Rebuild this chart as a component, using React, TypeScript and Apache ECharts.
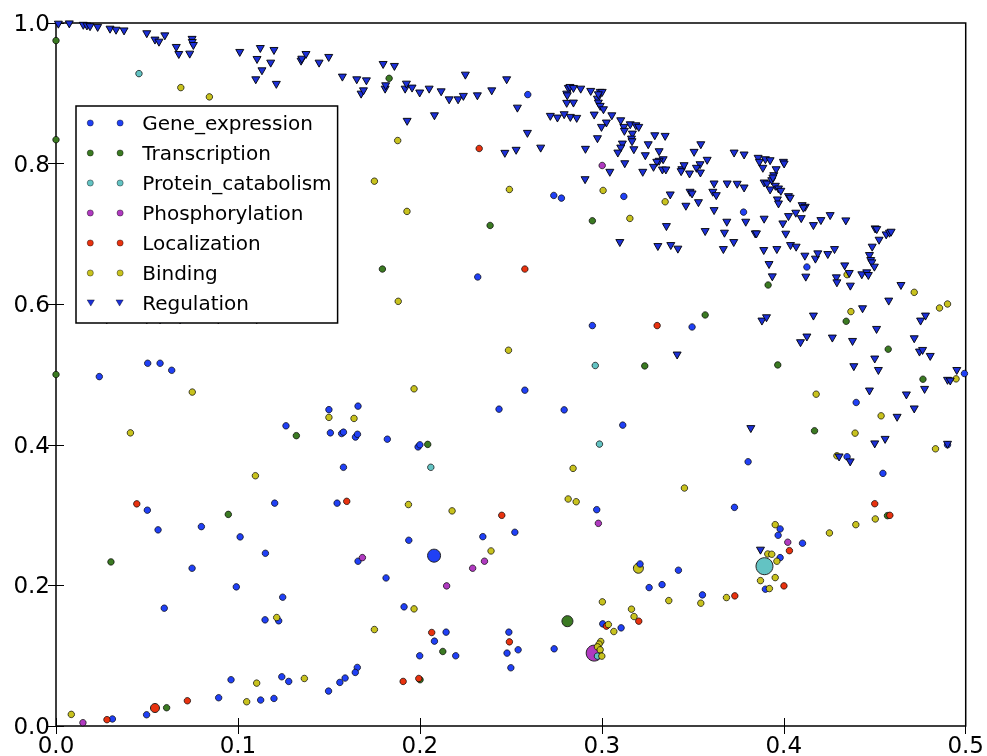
import React, { useEffect, useRef } from "react";
import * as echarts from "echarts";

const categories = ["Gene_expression", "Transcription", "Protein_catabolism", "Phosphorylation", "Localization", "Binding", "Regulation"];

const xTicks = ["0.0", "0.1", "0.2", "0.3", "0.4", "0.5"];
const yTicks = ["0.0", "0.2", "0.4", "0.6", "0.8", "1.0"];

// mean point of each category (drawn large)
const centroids: Record<string, number[]> = {
  Gene_expression: [0.2078, 0.2423],
  Transcription: [0.2811, 0.1491],
  Protein_catabolism: [0.3894, 0.2273],
  Phosphorylation: [0.2958, 0.1037],
  Localization: [0.0544, 0.0256],
  Binding: [0.3201, 0.2244],
};

const geneExpression = [
  [0.0238, 0.497], [0.0504, 0.516], [0.0572, 0.516], [0.0636, 0.506],
  [0.150, 0.450], [0.166, 0.455], [0.1264, 0.427], [0.1508, 0.417], [0.157, 0.416], [0.158, 0.418], [0.1646, 0.411], [0.1657, 0.415], [0.1821, 0.408], [0.199, 0.397], [0.200, 0.400], [0.2435, 0.4507], [0.158, 0.368],
  [0.0502, 0.307], [0.0561, 0.279], [0.0799, 0.2836], [0.1012, 0.269], [0.1202, 0.317], [0.1545, 0.317],
  [0.0748, 0.2244], [0.1151, 0.2457], [0.1939, 0.2642], [0.166, 0.2344], [0.2346, 0.2693], [0.1814, 0.2106], [0.0991, 0.1979], [0.0595, 0.1676], [0.1246, 0.1832], [0.1149, 0.151], [0.1224, 0.1496], [0.1913, 0.1695], [0.2144, 0.1335], [0.208, 0.1207], [0.2197, 0.0999], [0.1999, 0.0999],
  [0.1656, 0.0833], [0.1645, 0.0762], [0.1589, 0.0682], [0.156, 0.062], [0.1498, 0.0497], [0.1279, 0.0634], [0.1241, 0.07], [0.0962, 0.0658], [0.1198, 0.0392], [0.1125, 0.0369], [0.0894, 0.0402], [0.0498, 0.016], [0.031, 0.01],
  [0.2577, 0.4777], [0.2793, 0.4497], [0.3115, 0.428], [0.2972, 0.3077], [0.2522, 0.2756], [0.3729, 0.311], [0.3804, 0.3759], [0.4398, 0.4602], [0.4348, 0.383], [0.4545, 0.3594], [0.49, 0.4], [0.4103, 0.26], [0.398, 0.2803], [0.3969, 0.2713], [0.398, 0.2395], [0.3899, 0.1946], [0.3553, 0.1865], [0.3421, 0.2216], [0.3331, 0.2011], [0.326, 0.1969], [0.321, 0.2305], [0.3106, 0.1396], [0.3005, 0.1453], [0.2489, 0.1335], [0.2479, 0.1037], [0.254, 0.1084], [0.25, 0.0828], [0.2738, 0.1098],
  [0.2593, 0.8982], [0.2736, 0.7547], [0.2778, 0.7509], [0.3121, 0.7533], [0.3779, 0.731], [0.2948, 0.5696], [0.3496, 0.5676], [0.4127, 0.6529],
  [0.2318, 0.6387], [0.4993, 0.5014],
];

const transcription = [
  [0.1321, 0.413], [0.2043, 0.4006], [0.0947, 0.301], [0.0302, 0.2334], [0.2126, 0.106], [0.2001, 0.0658], [0.0608, 0.026],
  [0.4169, 0.42], [0.4765, 0.4933], [0.457, 0.2992],
  [0.2386, 0.712], [0.2948, 0.7187], [0.3914, 0.6273], [0.3568, 0.5847], [0.3236, 0.5122], [0.3967, 0.5136], [0.4343, 0.5757], [0.4574, 0.536],
  [0.1831, 0.9213], [0.1794, 0.65],
  [0, 0.975], [0, 0.834], [0, 0.5],
];

const proteinCatabolism = [
  [0.206, 0.368], [0.2987, 0.401], [0.2976, 0.0994], [0.0456, 0.928], [0.2964, 0.5128],
];

const phosphorylation = [
  [0.1684, 0.2395], [0.2355, 0.2344], [0.229, 0.2244], [0.2147, 0.1993], [0.0148, 0.0047], [0.2981, 0.2883], [0.4022, 0.2614], [0.3002, 0.7973],
];

const localization = [
  [0.0444, 0.316], [0.1598, 0.3196], [0.245, 0.2997], [0.2065, 0.133], [0.1908, 0.0634], [0.1994, 0.0676], [0.0722, 0.0359], [0.028, 0.009],
  [0.45, 0.3162], [0.4583, 0.2997], [0.4031, 0.2494], [0.4001, 0.1993], [0.3731, 0.1851], [0.3203, 0.1491], [0.3025, 0.142], [0.2492, 0.1197],
  [0.2577, 0.65], [0.3304, 0.5696], [0.2326, 0.8215],
];

const binding = [
  [0.0749, 0.475], [0.0409, 0.417], [0.150, 0.439], [0.1638, 0.4375], [0.1968, 0.4796], [0.1096, 0.356], [0.1937, 0.315], [0.2177, 0.306], [0.2391, 0.249], [0.1213, 0.1543], [0.1968, 0.1666], [0.175, 0.1372], [0.1365, 0.0676], [0.1103, 0.061], [0.1048, 0.0345], [0.0084, 0.0165],
  [0.2842, 0.3665], [0.3454, 0.3385], [0.2815, 0.3229], [0.2859, 0.319], [0.4178, 0.472], [0.4392, 0.4166], [0.4535, 0.4412], [0.4947, 0.4938], [0.4292, 0.3844], [0.4834, 0.3943], [0.4503, 0.2945], [0.4396, 0.2864], [0.4251, 0.2746], [0.3953, 0.2864], [0.3912, 0.2447], [0.3934, 0.2443], [0.3962, 0.2344], [0.3872, 0.2068], [0.3953, 0.2111], [0.3921, 0.1955], [0.3685, 0.1827], [0.3544, 0.1747], [0.3368, 0.1784], [0.3003, 0.1766], [0.3163, 0.1662], [0.3177, 0.1557], [0.3066, 0.1344], [0.3036, 0.1443],
  [0.2994, 0.1202], [0.2985, 0.1165], [0.2976, 0.1126], [0.2991, 0.1084], [0.3, 0.0994],
  [0.2492, 0.7632], [0.3007, 0.7618], [0.3348, 0.7457], [0.3154, 0.722], [0.2487, 0.5345], [0.4369, 0.5895], [0.4348, 0.642], [0.4717, 0.6169], [0.4856, 0.5946], [0.49, 0.6003],
  [0.0686, 0.9081], [0.0843, 0.8949], [0.1878, 0.8328], [0.175, 0.775], [0.1929, 0.732], [0.1881, 0.6041],
];

const regulation = [
  [0.0013, 0.9976], [0.0073, 0.998], [0.015, 0.996], [0.017, 0.995], [0.0187, 0.994], [0.0229, 0.993], [0.0297, 0.9905], [0.033, 0.989], [0.0374, 0.988], [0.0499, 0.984], [0.0544, 0.975], [0.0566, 0.972], [0.0598, 0.981], [0.0661, 0.9645], [0.0675, 0.9545], [0.0735, 0.955], [0.0748, 0.976], [0.0749, 0.9716], [0.0755, 0.9673],
  [0.101, 0.9574], [0.1105, 0.9474], [0.1123, 0.963], [0.118, 0.9422], [0.1198, 0.9602], [0.1098, 0.9185], [0.1132, 0.9313], [0.1211, 0.912], [0.1347, 0.945], [0.1351, 0.9478], [0.1374, 0.9545], [0.1446, 0.9422], [0.1499, 0.9503], [0.1574, 0.9223], [0.1653, 0.9185], [0.1706, 0.917], [0.1677, 0.8981], [0.169, 0.9028], [0.1798, 0.9403], [0.186, 0.9375], [0.1809, 0.9052], [0.1812, 0.91], [0.1919, 0.9052], [0.1926, 0.9123], [0.1957, 0.9067], [0.1999, 0.8997], [0.2051, 0.9052], [0.208, 0.8673], [0.2117, 0.9014], [0.2161, 0.89], [0.221, 0.89], [0.2239, 0.8949], [0.225, 0.9251], [0.2316, 0.8957], [0.2395, 0.9028], [0.193, 0.8594],
  [0.2477, 0.9185], [0.2536, 0.8782], [0.2591, 0.8423], [0.2467, 0.8139], [0.2529, 0.8182], [0.2664, 0.8213],
  [0.2816, 0.9062], [0.2825, 0.9076], [0.2844, 0.9062], [0.2884, 0.9052], [0.2807, 0.8981], [0.281, 0.8957], [0.2807, 0.885], [0.2844, 0.8854],
  [0.2717, 0.8665], [0.2756, 0.8641], [0.2793, 0.8688], [0.2827, 0.865], [0.2862, 0.8636],
  [0.2939, 0.902], [0.2991, 0.9006], [0.3002, 0.9006], [0.2976, 0.891], [0.2981, 0.8854], [0.2991, 0.8807], [0.3009, 0.8759], [0.2981, 0.8972],
  [0.2958, 0.8683], [0.3055, 0.8673], [0.3025, 0.857], [0.3104, 0.8602], [0.2998, 0.8508], [0.2976, 0.8347], [0.291, 0.8196],
  [0.3121, 0.8508], [0.3124, 0.8452], [0.3156, 0.8545], [0.3187, 0.8531], [0.3203, 0.8508], [0.3168, 0.8413], [0.3163, 0.8342], [0.3166, 0.8304],
  [0.3113, 0.8271], [0.3104, 0.8214], [0.3088, 0.8143], [0.3176, 0.819], [0.3126, 0.7991], [0.3044, 0.7869], [0.2908, 0.7764],
  [0.3291, 0.8389], [0.3348, 0.838], [0.3255, 0.8261], [0.3239, 0.8105], [0.3315, 0.8162], [0.3337, 0.8048], [0.3315, 0.8026], [0.3302, 0.8011], [0.3284, 0.794], [0.3333, 0.7902], [0.3352, 0.7902], [0.3225, 0.7869], [0.3376, 0.7547], [0.3355, 0.7097], [0.3308, 0.6813], [0.3379, 0.6827], [0.3418, 0.6776], [0.3099, 0.687], [0.3414, 0.527],
  [0.3544, 0.8261], [0.3507, 0.8153], [0.3579, 0.804], [0.354, 0.7977], [0.352, 0.7926], [0.3542, 0.7859], [0.344, 0.7906], [0.3436, 0.7878], [0.3452, 0.7963], [0.3482, 0.7845],
  [0.3462, 0.7386], [0.3485, 0.7585], [0.3496, 0.7561], [0.3531, 0.7437], [0.3617, 0.7703], [0.361, 0.7585], [0.3629, 0.7537], [0.3617, 0.7324], [0.3689, 0.7703], [0.3744, 0.7699], [0.3782, 0.7646], [0.3687, 0.7159], [0.3791, 0.7159], [0.3568, 0.7026], [0.3674, 0.7003], [0.3725, 0.687], [0.3668, 0.677],
  [0.3843, 0.6993], [0.385, 0.6993], [0.3892, 0.7202], [0.389, 0.6756], [0.3919, 0.6557], [0.3937, 0.6382], [0.3962, 0.677], [0.3995, 0.7135], [0.4011, 0.6989], [0.4037, 0.6827], [0.4068, 0.6804], [0.4026, 0.7239], [0.4066, 0.7287], [0.4096, 0.721], [0.4101, 0.7395], [0.4118, 0.7372], [0.4108, 0.7358], [0.4026, 0.7523], [0.4035, 0.75], [0.3965, 0.7476], [0.3971, 0.7419],
  [0.3892, 0.7717], [0.3907, 0.7703], [0.3934, 0.775], [0.3945, 0.7821], [0.394, 0.7788], [0.3954, 0.767], [0.3971, 0.7632], [0.3984, 0.7599], [0.3925, 0.7618],
  [0.3859, 0.8068], [0.3866, 0.8011], [0.3899, 0.8048], [0.3925, 0.8034], [0.3885, 0.7926], [0.3958, 0.7906], [0.3998, 0.8011], [0.4002, 0.7987], [0.3727, 0.8143], [0.3782, 0.8115],
  [0.4163, 0.7111], [0.4204, 0.7182], [0.4255, 0.7253], [0.4341, 0.7178], [0.4116, 0.6676], [0.4174, 0.6634], [0.4187, 0.6709], [0.4242, 0.6699], [0.4279, 0.677], [0.4121, 0.6378], [0.4335, 0.6538], [0.4289, 0.6368], [0.4292, 0.6297], [0.4366, 0.625], [0.436, 0.643], [0.4429, 0.6411], [0.4456, 0.6439], [0.4465, 0.6401], [0.4471, 0.6685], [0.4478, 0.6614], [0.4484, 0.6581], [0.4498, 0.652], [0.4486, 0.6804], [0.4524, 0.6903], [0.4502, 0.7064], [0.4511, 0.7054], [0.4563, 0.6979], [0.4581, 0.7003], [0.459, 0.7017],
  [0.4644, 0.6259], [0.4577, 0.6037], [0.4433, 0.5928], [0.4163, 0.5824], [0.388, 0.5753], [0.3905, 0.58], [0.4092, 0.5445], [0.4127, 0.5526], [0.4267, 0.5511], [0.4378, 0.5463], [0.451, 0.5634], [0.45, 0.5213], [0.452, 0.505], [0.4385, 0.5104], [0.4752, 0.5753], [0.4779, 0.5824], [0.4717, 0.5501], [0.4746, 0.5312], [0.4763, 0.5335], [0.4805, 0.525],
  [0.4471, 0.4758], [0.4674, 0.4702], [0.4623, 0.4384], [0.4717, 0.4503], [0.4774, 0.4781], [0.49, 0.491], [0.4915, 0.49], [0.4951, 0.505], [0.45, 0.4006], [0.4557, 0.407], [0.4304, 0.382], [0.4365, 0.375], [0.3819, 0.4223], [0.49, 0.4], [0.3872, 0.2494],
  [0.0279, 0.577], [0.0499, 0.577], [0.0572, 0.577], [0.0682, 0.577], [0.0892, 0.577], [0.1103, 0.577],
];

const seriesPoints: Record<string, number[][]> = {
  Gene_expression: geneExpression,
  Transcription: transcription,
  Protein_catabolism: proteinCatabolism,
  Phosphorylation: phosphorylation,
  Localization: localization,
  Binding: binding,
  Regulation: regulation,
};

const colors: Record<string, string> = {
  Gene_expression: "#2040f5",
  Transcription: "#3b7a22",
  Protein_catabolism: "#63c3c3",
  Phosphorylation: "#b03ac0",
  Localization: "#e8320f",
  Binding: "#c8c21e",
  Regulation: "#1c30d8",
};

const centroidSize: Record<string, number> = {
  Gene_expression: 13,
  Transcription: 11,
  Protein_catabolism: 17,
  Phosphorylation: 16,
  Localization: 9,
  Binding: 10,
};

const FONT = "DejaVu Sans";
const twoCircles = "path://M0,3A3,3 0 1,1 6,3A3,3 0 1,1 0,3ZM29,3A3,3 0 1,1 35,3A3,3 0 1,1 29,3Z";
const twoTriangles = "path://M0,0L7,0L3.5,6ZM28,0L35,0L31.5,6Z";

export default function App() {
  const ref = useRef<HTMLDivElement>(null);
  useEffect(() => {
    const chart = echarts.init(ref.current!, null, { renderer: "svg" });
    const series: any[] = [];
    categories.forEach((c) => {
      if (centroids[c]) {
        series.push({
          type: "scatter",
          name: c,
          data: [centroids[c]],
          symbol: "circle",
          symbolSize: centroidSize[c],
          itemStyle: { color: colors[c], borderColor: "#222", borderWidth: 1, opacity: 1 },
          z: 2,
        });
      }
    });
    categories.forEach((c) => {
      const isReg = c === "Regulation";
      series.push({
        type: "scatter",
        name: c,
        data: seriesPoints[c],
        symbol: isReg ? "triangle" : "circle",
        symbolRotate: isReg ? 180 : 0,
        symbolSize: isReg ? [8, 7] : 6.5,
        itemStyle: { color: colors[c], borderColor: "#000", borderWidth: isReg ? 0.9 : 0.7, opacity: 1 },
        z: 3,
      });
    });
    const axisLabel = { color: "#000", fontSize: 23, fontFamily: FONT };
    const tick = { show: true, inside: true, length: 8, lineStyle: { color: "#000", width: 1 } };
    chart.setOption({
      animation: false,
      grid: { left: 56, right: 21, top: 23, bottom: 29, show: true, borderColor: "#000", borderWidth: 1.5, backgroundColor: "transparent" },
      xAxis: [
        {
          type: "value", min: 0, max: 0.5, interval: 0.1, position: "bottom",
          axisLine: { show: false }, splitLine: { show: false }, axisTick: tick,
          axisLabel: { ...axisLabel, margin: 7, formatter: (v: number) => xTicks[Math.round(v * 10)] },
        },
        {
          type: "value", min: 0, max: 0.5, interval: 0.1, position: "top",
          axisLine: { show: false }, splitLine: { show: false }, axisTick: tick, axisLabel: { show: false },
        },
      ],
      yAxis: [
        {
          type: "value", min: 0, max: 1, interval: 0.2, position: "left",
          axisLine: { show: false }, splitLine: { show: false }, axisTick: tick,
          axisLabel: { ...axisLabel, margin: 6, formatter: (v: number) => yTicks[Math.round(v * 5)] },
        },
        {
          type: "value", min: 0, max: 1, interval: 0.2, position: "right",
          axisLine: { show: false }, splitLine: { show: false }, axisTick: tick, axisLabel: { show: false },
        },
      ],
      legend: {
        orient: "vertical",
        left: 76,
        top: 106,
        padding: [7, 6, 10, 11],
        itemGap: 10,
        itemWidth: 36,
        itemHeight: 7,
        backgroundColor: "#fff",
        borderColor: "#000",
        borderWidth: 1.5,
        borderRadius: 0,
        z: 10,
        selectedMode: false,
        itemStyle: { borderWidth: 0.4, borderColor: "#000" },
        textStyle: { color: "#000", fontSize: 20, fontFamily: FONT, padding: [0, 0, 0, 14] },
        data: categories.map((c) => ({ name: c, icon: c === "Regulation" ? twoTriangles : twoCircles })),
      },
      series,
    });
    return () => chart.dispose();
  }, []);
  return <div ref={ref} style={{ position: "fixed", left: 0, top: 0, width: 987, height: 756 }} />;
}
